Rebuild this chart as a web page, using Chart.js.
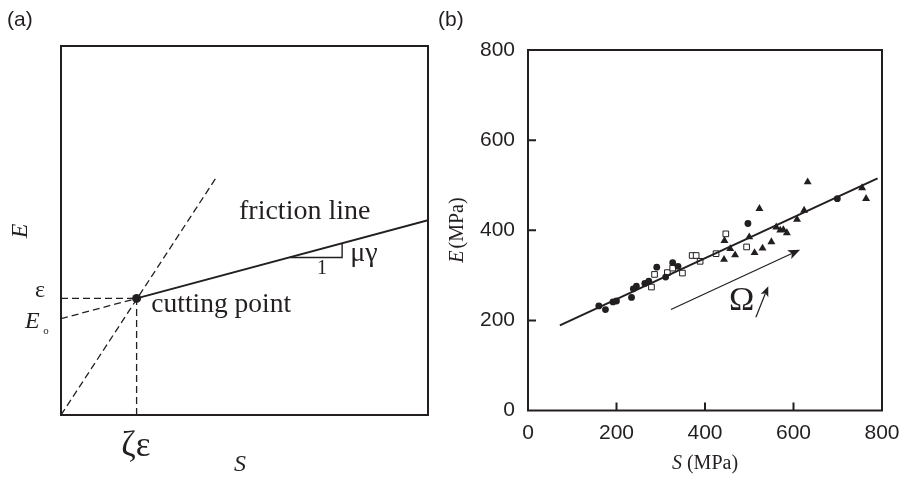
<!DOCTYPE html>
<html>
<head>
<meta charset="utf-8">
<script src="https://cdn.jsdelivr.net/npm/chart.js@4.4.1/dist/chart.umd.min.js"></script>
<style>
  html, body { margin: 0; padding: 0; background: #fff; }
  #wrap { position: relative; width: 902px; height: 478px; overflow: hidden; }
  #chartA { position: absolute; left: 0; top: 0; }
  #chartB { position: absolute; left: 430px; top: 0; }
</style>
</head>
<body>
<div id="wrap">
  <canvas id="chartA" width="460" height="478"></canvas>
  <canvas id="chartB" width="472" height="478"></canvas>
</div>
<script>
/* ── panel (a): schematic, unitless axes 0..100 ── */
const cutPoint      = [{ x: 20.6, y: 31.6 }];
const frictionLine  = [{ x: 20.6, y: 31.6 }, { x: 100, y: 52.8 }];
const frictionExt   = [{ x: 0, y: 26.1 }, { x: 20.6, y: 31.6 }];
const steepLine     = [{ x: 0, y: 0 }, { x: 42.2, y: 64.2 }];
const cutHoriz      = [{ x: 0, y: 31.6 }, { x: 20.6, y: 31.6 }];
const cutVert       = [{ x: 20.6, y: 0 }, { x: 20.6, y: 31.6 }];
const slopeTriangle = [{ x: 62.4, y: 42.7 }, { x: 76.6, y: 42.7 }, { x: 76.6, y: 46.5 }];

/* ── panel (b): measured E vs S (MPa) ── */
const circleS   = [160, 175, 192, 200, 234, 238, 245, 264, 273, 291, 311, 327, 339, 497, 699];
const circleE   = [232, 224, 241, 243, 251, 270, 276, 282, 287, 318, 296, 328, 320, 415, 470];
const squareS   = [279, 286, 315, 327, 349, 371, 380, 389, 425, 447, 494];
const squareE   = [274, 302, 306, 316, 305, 344, 344, 331, 348, 392, 363];
const triangleS = [444, 443, 457, 468, 500, 512, 523, 530, 550, 561, 570, 577, 585, 608, 624, 632, 755, 764];
const triangleE = [377, 335, 359, 345, 385, 350, 448, 360, 374, 407, 400, 401, 394, 424, 444, 507, 494, 470];
const fitLine   = [{ x: 72, y: 189 }, { x: 790, y: 515 }];
const axisTicks = [0, 200, 400, 600, 800];

const INK = '#231f20';
const SERIF = '"Liberation Serif", "Times New Roman", serif';
const SANS  = '"Liberation Sans", Arial, sans-serif';

function pairs(xs, ys) {
  return xs.map((x, i) => ({ x: x, y: ys[i] }));
}

function lineSet(data, dashed, width) {
  return {
    data: data, showLine: true, borderColor: INK, borderWidth: width || 1.3,
    borderDash: dashed ? [7, 4] : [], pointRadius: 0, fill: false, tension: 0
  };
}

function hiddenScale(min, max) {
  return {
    type: 'linear', min: min, max: max,
    ticks: { display: false },
    grid: { display: false, drawTicks: false },
    border: { display: false }
  };
}

// texto con varios estilos en una misma linea
function drawRuns(ctx, x, y, runs, align) {
  let total = 0;
  runs.forEach(r => { ctx.font = r.font; total += ctx.measureText(r.text).width + (r.dx || 0); });
  let cx = align === 'center' ? x - total / 2 : x;
  runs.forEach(r => {
    ctx.font = r.font;
    cx += r.dx || 0;
    ctx.fillText(r.text, cx, y + (r.dy || 0));
    cx += ctx.measureText(r.text).width;
  });
}

function drawArrow(ctx, x1, y1, x2, y2, head) {
  const ang = Math.atan2(y2 - y1, x2 - x1);
  ctx.beginPath();
  ctx.moveTo(x1, y1);
  ctx.lineTo(x2 - Math.cos(ang) * head * 0.7, y2 - Math.sin(ang) * head * 0.7);
  ctx.stroke();
  ctx.beginPath();
  ctx.moveTo(x2, y2);
  ctx.lineTo(x2 - head * Math.cos(ang - 0.38), y2 - head * Math.sin(ang - 0.38));
  ctx.lineTo(x2 - head * 0.7 * Math.cos(ang), y2 - head * 0.7 * Math.sin(ang));
  ctx.lineTo(x2 - head * Math.cos(ang + 0.38), y2 - head * Math.sin(ang + 0.38));
  ctx.closePath();
  ctx.fill();
}

/* annotations for (a) */
const schematicPlugin = {
  id: 'schematic',
  afterDraw(chart) {
    const { ctx, chartArea: a, scales } = chart;
    const px = v => scales.x.getPixelForValue(v);
    const py = v => scales.y.getPixelForValue(v);
    ctx.save();
    ctx.strokeStyle = INK;
    ctx.lineWidth = 2;
    ctx.strokeRect(a.left, a.top, a.right - a.left, a.bottom - a.top);

    ctx.fillStyle = INK;
    ctx.textBaseline = 'middle';
    ctx.textAlign = 'left';
    ctx.font = '21px ' + SANS;
    ctx.fillText('(a)', 7, 20);

    ctx.font = '28px ' + SERIF;
    ctx.fillText('friction line', px(48.5), py(55.2));
    ctx.font = '27.5px ' + SERIF;
    ctx.fillText('cutting point', px(24.6), py(29.8));
    ctx.font = '28px ' + SERIF;
    ctx.fillText('\u03bc\u03b3', px(78.8), py(43.7));
    ctx.font = '20px ' + SERIF;
    ctx.textAlign = 'center';
    ctx.fillText('1', px(71.1), py(39.6));

    ctx.font = '24px ' + SERIF;
    ctx.fillText('\u03b5', 40, py(33.8));
    drawRuns(ctx, 42, py(25.2), [
      { text: 'E', font: 'italic 24px ' + SERIF },
      { text: 'o', font: '11px ' + SERIF, dy: 9, dx: -1 }
    ], 'center');

    ctx.font = '35px ' + SERIF;
    ctx.fillText('\u03b6\u03b5', px(20.4), 447);
    ctx.font = 'italic 24px ' + SERIF;
    ctx.fillText('S', px(48.8), 465);

    ctx.translate(21, 231);
    ctx.rotate(-Math.PI / 2);
    ctx.fillText('E', 0, 0);
    ctx.restore();
  }
};

new Chart(document.getElementById('chartA'), {
  type: 'scatter',
  data: {
    datasets: [
      lineSet(frictionLine, false, 2),
      lineSet(frictionExt, true),
      lineSet(steepLine, true),
      lineSet(cutHoriz, true),
      lineSet(cutVert, true),
      lineSet(slopeTriangle, false, 1.4),
      { data: cutPoint, pointRadius: 4.5, pointBackgroundColor: INK, pointBorderWidth: 0 }
    ]
  },
  options: {
    responsive: false,
    animation: false,
    layout: { padding: { left: 61, top: 46, right: 32, bottom: 63 } },
    plugins: { legend: { display: false }, tooltip: { enabled: false } },
    scales: { x: hiddenScale(0, 100), y: hiddenScale(0, 100) }
  },
  plugins: [schematicPlugin]
});

/* frame, inward ticks, titles and arrows for (b) */
const framePlugin = {
  id: 'frameB',
  afterDraw(chart) {
    const { ctx, chartArea: a, scales } = chart;
    const px = v => scales.x.getPixelForValue(v);
    const py = v => scales.y.getPixelForValue(v);
    ctx.save();
    ctx.strokeStyle = INK;
    ctx.fillStyle = INK;
    ctx.lineWidth = 2;
    ctx.strokeRect(a.left, a.top, a.right - a.left, a.bottom - a.top);
    ctx.beginPath();
    axisTicks.slice(1, -1).forEach(t => {
      ctx.moveTo(px(t), a.bottom);
      ctx.lineTo(px(t), a.bottom - 8);
      ctx.moveTo(a.left, py(t));
      ctx.lineTo(a.left + 8, py(t));
    });
    ctx.stroke();

    ctx.lineWidth = 1.2;
    drawArrow(ctx, px(323), py(224), px(615), py(357), 13);
    drawArrow(ctx, px(515), py(207), px(543), py(276), 11);

    ctx.textBaseline = 'middle';
    ctx.textAlign = 'center';
    ctx.font = '34px ' + SERIF;
    ctx.fillText('\u03a9', px(483), py(242));

    ctx.textAlign = 'left';
    ctx.font = '21px ' + SANS;
    ctx.fillText('(b)', 8, 20);

    drawRuns(ctx, (a.left + a.right) / 2, 464, [
      { text: 'S', font: 'italic 20px ' + SERIF },
      { text: ' (MPa)', font: '20px ' + SERIF }
    ], 'center');

    ctx.translate(28, 230);
    ctx.rotate(-Math.PI / 2);
    drawRuns(ctx, 0, 0, [
      { text: 'E', font: 'italic 20px ' + SERIF },
      { text: '(MPa)', font: '20px ' + SERIF, dx: 2 }
    ], 'center');
    ctx.restore();
  }
};

function valueScale(width, height, pad) {
  return {
    type: 'linear', min: 0, max: 800,
    afterBuildTicks: s => { s.ticks = axisTicks.map(v => ({ value: v })); },
    afterFit: s => {
      if (width) s.width = width;
      if (height) s.height = height;
      s.paddingLeft = s.paddingRight = s.paddingTop = s.paddingBottom = 0;
    },
    ticks: { color: INK, padding: pad, font: { family: 'Liberation Sans', size: 21 } },
    grid: { display: false, drawTicks: false },
    border: { display: false }
  };
}

new Chart(document.getElementById('chartB'), {
  type: 'scatter',
  data: {
    datasets: [
      lineSet(fitLine, false, 2),
      { data: pairs(circleS, circleE), pointStyle: 'circle', pointRadius: 3.4,
        pointBackgroundColor: INK, pointBorderWidth: 0 },
      { data: pairs(squareS, squareE), pointStyle: 'rect', pointRadius: 4,
        pointBackgroundColor: '#fff', pointBorderColor: INK, pointBorderWidth: 1 },
      { data: pairs(triangleS, triangleE), pointStyle: 'triangle', pointRadius: 4.6,
        pointBackgroundColor: INK, pointBorderWidth: 0 }
    ]
  },
  options: {
    responsive: false,
    animation: false,
    layout: { padding: { left: 0, top: 50, right: 20, bottom: 0 } },
    plugins: { legend: { display: false }, tooltip: { enabled: false } },
    scales: {
      x: valueScale(null, 67.5, 10),
      y: valueScale(98, null, 13)
    }
  },
  plugins: [framePlugin]
});
</script>
</body>
</html>
